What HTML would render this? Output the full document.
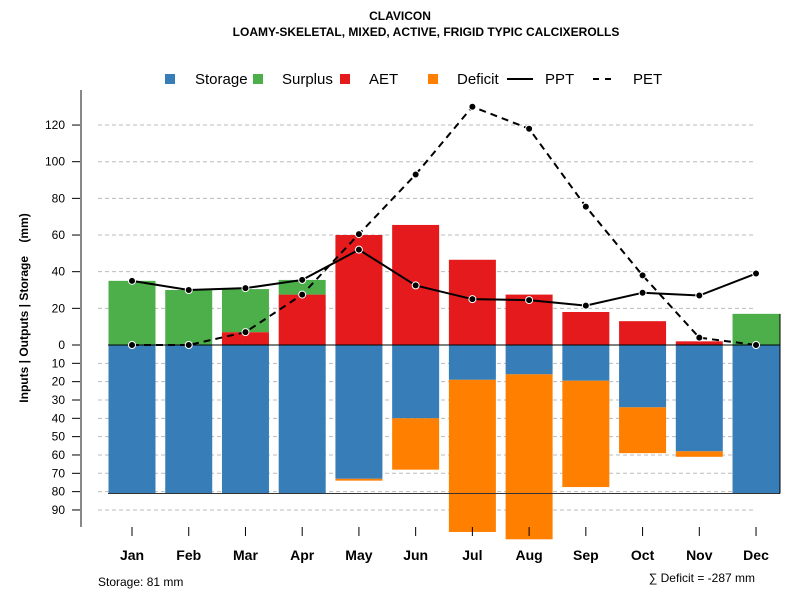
<!DOCTYPE html>
<html><head><meta charset="utf-8"><style>
body{margin:0;background:#fff;font-family:"Liberation Sans",sans-serif}
svg text{font-family:"Liberation Sans",sans-serif}
</style></head><body>
<svg id="c" width="800" height="600" xmlns="http://www.w3.org/2000/svg">
<text x="400" y="20" text-anchor="middle" font-size="12" font-weight="bold">CLAVICON</text>
<text x="426" y="36" text-anchor="middle" font-size="12" font-weight="bold">LOAMY-SKELETAL, MIXED, ACTIVE, FRIGID TYPIC CALCIXEROLLS</text>
<g font-size="15">
<rect x="165" y="74" width="10" height="10" fill="#377eb8"/><text x="195" y="84">Storage</text>
<rect x="253" y="74" width="10" height="10" fill="#4daf4a"/><text x="282" y="84">Surplus</text>
<rect x="340" y="74" width="10" height="10" fill="#e41a1c"/><text x="369" y="84">AET</text>
<rect x="428" y="74" width="10" height="10" fill="#ff7f00"/><text x="457" y="84">Deficit</text>
<line x1="507" y1="79" x2="533" y2="79" stroke="#000" stroke-width="2"/><text x="545" y="84">PPT</text>
<line x1="593" y1="79" x2="617" y2="79" stroke="#000" stroke-width="2" stroke-dasharray="6,6"/><text x="633" y="84">PET</text>
</g>
<text transform="translate(28,308) rotate(-90)" text-anchor="middle" font-size="12" font-weight="bold">Inputs | Outputs | Storage&#160;&#160;&#160;&#160;(mm)</text>
<text x="98" y="586" font-size="12">Storage: 81 mm</text>
<text x="755" y="582" text-anchor="end" font-size="12">∑ Deficit = -287 mm</text>
<g id="plot"></g>
</svg>
<script>
const months=["Jan","Feb","Mar","Apr","May","Jun","Jul","Aug","Sep","Oct","Nov","Dec"];
const storage=[81,81,81,81,73,40,19,16,19.5,34,58,81];
const deficit=[0,0,0,0,1,28,83,90,58,25,3,0];
const aet=[0,0,7,27.5,60,65.5,46.5,27.5,18,13,2,0];
const surplus=[35,30,23.5,8,0,0,0,0,0,0,0,17];
const ppt=[35,30,31,35.5,52,32.5,25,24.5,21.5,28.5,27,39];
const pet=[0,0,7,27.5,60.5,93,130,118,75.5,38,4,0];
const posTicks=[0,20,40,60,80,100,120];
const negTicks=[10,20,30,40,50,60,70,80,90];
const storageTotal=81;
const NS="http://www.w3.org/2000/svg";
const g=document.getElementById("plot");
const y0=345,k=1.833;
const yP=v=>y0-v*k, yN=v=>y0+v*k;
const xC=i=>132+i*56.73, bw=47;
function mk(t,a,p){const e=document.createElementNS(NS,t);for(const n in a)e.setAttribute(n,a[n]);(p||g).appendChild(e);return e;}
posTicks.forEach(v=>{
 const y=yP(v);
 if(v>0){const l=mk("line",{x1:98,x2:756,y1:y,y2:y,stroke:"#bbb","stroke-dasharray":"4,3"});
 
 }
 const t=mk("line",{x1:72,x2:81,y1:y,y2:y,stroke:"#000"});
 
 
 const tx=mk("text",{x:65,y:y+4,"text-anchor":"end","font-size":12});tx.textContent=v;
 
 
});
negTicks.forEach(v=>{
 const y=yN(v);
 const l=mk("line",{x1:98,x2:756,y1:y,y2:y,stroke:"#bbb","stroke-dasharray":"4,3"});
 
 
 const t=mk("line",{x1:72,x2:81,y1:y,y2:y,stroke:"#000"});
 
 
 const tx=mk("text",{x:65,y:y+4,"text-anchor":"end","font-size":12});tx.textContent=v;
 
 
});
const ax=mk("line",{x1:81,x2:81,y1:90,y2:527,stroke:"#888","stroke-width":2});


months.forEach((m,i)=>{
 const x=xC(i)-bw/2;
 const s=mk("rect",{x:x,y:y0,width:bw,height:storage[i]*k,fill:"#377eb8"});
 
 
 if(deficit[i]>0){const d=mk("rect",{x:x,y:yN(storage[i]),width:bw,height:deficit[i]*k,fill:"#ff7f00"});
 
 }
 if(aet[i]>0){const a=mk("rect",{x:x,y:yP(aet[i]),width:bw,height:aet[i]*k,fill:"#e41a1c"});
 
 }
 if(surplus[i]>0){const u=mk("rect",{x:x,y:yP(aet[i]+surplus[i]),width:bw,height:surplus[i]*k,fill:"#4daf4a"});
 
 }
 const t=mk("line",{x1:xC(i),x2:xC(i),y1:527,y2:536,stroke:"#000"});
 
 
 const tx=mk("text",{x:xC(i),y:560,"text-anchor":"middle","font-size":14,"font-weight":"bold"});tx.textContent=m;
 
 
});
const sl=mk("line",{x1:108,x2:780,y1:yN(storageTotal),y2:yN(storageTotal),stroke:"#333"});


const zl=mk("line",{x1:108,x2:780,y1:y0,y2:y0,stroke:"#000"});


const dr=mk("line",{x1:780,x2:780,y1:yP(surplus[11]),y2:yN(storageTotal),stroke:"#000"});


function series(vals,dash,name){
 const p=mk("polyline",{points:vals.map((v,i)=>xC(i)+","+yP(v)).join(" "),fill:"none",stroke:"#000","stroke-width":2,"stroke-dasharray":dash});
 
 
 vals.forEach((v,i)=>{const c=mk("circle",{cx:xC(i),cy:yP(v),r:3.5,fill:"#000",stroke:"#fff","stroke-width":1});
 
 });
}
series(ppt,"none","ppt");
series(pet,"7,5","pet");
</script>
</body></html>
